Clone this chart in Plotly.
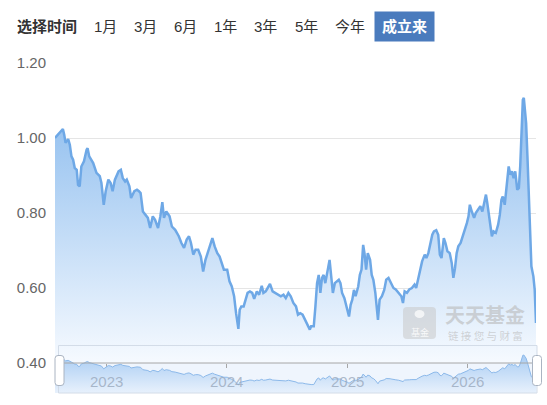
import plotly.graph_objects as go

# ---------------- data ----------------
nav_dates = [
    "2022-07-28", "2022-08-11", "2022-08-21", "2022-08-25", "2022-08-29", "2022-09-06", "2022-09-11", "2022-09-16",
    "2022-09-21", "2022-09-26", "2022-10-02", "2022-10-06", "2022-10-11", "2022-10-16", "2022-10-24", "2022-11-01",
    "2022-11-04", "2022-11-09", "2022-11-16", "2022-11-21", "2022-12-01", "2022-12-11", "2022-12-16", "2022-12-23",
    "2022-12-29", "2023-01-06", "2023-01-13", "2023-01-19", "2023-01-26", "2023-02-06", "2023-02-13", "2023-02-19",
    "2023-02-26", "2023-03-03", "2023-03-11", "2023-03-16", "2023-03-26", "2023-04-03", "2023-04-09", "2023-04-14",
    "2023-04-21", "2023-04-28", "2023-05-06", "2023-05-13", "2023-05-21", "2023-05-28", "2023-06-06", "2023-06-13",
    "2023-06-19", "2023-06-24", "2023-07-01", "2023-07-11", "2023-07-18", "2023-07-28", "2023-08-08", "2023-08-16",
    "2023-08-24", "2023-09-01", "2023-09-08", "2023-09-14", "2023-09-21", "2023-09-28", "2023-10-06", "2023-10-14",
    "2023-10-21", "2023-10-28", "2023-11-03", "2023-11-11", "2023-11-18", "2023-11-25", "2023-12-03", "2023-12-10",
    "2023-12-17", "2023-12-23", "2024-01-02", "2024-01-09", "2024-01-16", "2024-01-23", "2024-01-29", "2024-02-05",
    "2024-02-09", "2024-02-14", "2024-02-21", "2024-02-28", "2024-03-04", "2024-03-11", "2024-03-18", "2024-03-24",
    "2024-04-01", "2024-04-08", "2024-04-16", "2024-04-21", "2024-04-28", "2024-05-04", "2024-05-11", "2024-05-19",
    "2024-05-26", "2024-06-04", "2024-06-13", "2024-06-21", "2024-06-28", "2024-07-06", "2024-07-13", "2024-07-21",
    "2024-07-29", "2024-08-04", "2024-08-11", "2024-08-18", "2024-08-26", "2024-09-03", "2024-09-09", "2024-09-13",
    "2024-09-21", "2024-09-26", "2024-10-01", "2024-10-06", "2024-10-11", "2024-10-16", "2024-10-21", "2024-10-26",
    "2024-11-02", "2024-11-08", "2024-11-13", "2024-11-18", "2024-11-24", "2024-12-01", "2024-12-06", "2024-12-11",
    "2024-12-16", "2024-12-23", "2025-01-02", "2025-01-06", "2025-01-11", "2025-01-16", "2025-01-21", "2025-01-26",
    "2025-02-03", "2025-02-08", "2025-02-13", "2025-02-18", "2025-02-22", "2025-02-27", "2025-03-04", "2025-03-11",
    "2025-03-16", "2025-03-21", "2025-03-27", "2025-04-01", "2025-04-04", "2025-04-09", "2025-04-16", "2025-04-23",
    "2025-04-29", "2025-05-06", "2025-05-11", "2025-05-14", "2025-05-21", "2025-05-28", "2025-06-06", "2025-06-14",
    "2025-06-19", "2025-06-24", "2025-07-01", "2025-07-08", "2025-07-16", "2025-07-24", "2025-07-29", "2025-08-04",
    "2025-08-09", "2025-08-16", "2025-08-24", "2025-08-29", "2025-09-04", "2025-09-09", "2025-09-16", "2025-09-21",
    "2025-09-28", "2025-10-04", "2025-10-09", "2025-10-14", "2025-10-21", "2025-10-26", "2025-11-01", "2025-11-08",
    "2025-11-14", "2025-11-19", "2025-11-24", "2025-11-29", "2025-12-04", "2025-12-11", "2025-12-18", "2025-12-24",
    "2025-12-30", "2026-01-04", "2026-01-08", "2026-01-14", "2026-01-21", "2026-01-26", "2026-02-03", "2026-02-09",
    "2026-02-15", "2026-02-22", "2026-02-26", "2026-03-02", "2026-03-06", "2026-03-11", "2026-03-16", "2026-03-21",
    "2026-03-28", "2026-04-04", "2026-04-09", "2026-04-14", "2026-04-18", "2026-04-24", "2026-04-30", "2026-05-06",
    "2026-05-11", "2026-05-16", "2026-05-21", "2026-05-26", "2026-06-01", "2026-06-06", "2026-06-10", "2026-06-14",
    "2026-06-18", "2026-06-21", "2026-06-24", "2026-06-28", "2026-07-02", "2026-07-06", "2026-07-10", "2026-07-14",
    "2026-07-20", "2026-07-24", "2026-07-28",
]
nav_values = [
    1.000, 1.015, 1.024, 1.009, 0.987, 0.997, 0.982, 0.951,
    0.942, 0.920, 0.915, 0.875, 0.871, 0.924, 0.938, 0.969,
    0.973, 0.951, 0.938, 0.933, 0.907, 0.898, 0.880, 0.822,
    0.858, 0.889, 0.880, 0.858, 0.889, 0.911, 0.915, 0.893,
    0.884, 0.889, 0.871, 0.840, 0.858, 0.862, 0.858, 0.853,
    0.804, 0.795, 0.787, 0.760, 0.791, 0.782, 0.760, 0.791,
    0.829, 0.787, 0.804, 0.791, 0.764, 0.755, 0.738, 0.720,
    0.707, 0.729, 0.738, 0.720, 0.689, 0.702, 0.702, 0.684,
    0.644, 0.675, 0.693, 0.715, 0.733, 0.711, 0.693, 0.684,
    0.662, 0.649, 0.649, 0.618, 0.604, 0.578, 0.533, 0.491,
    0.542, 0.551, 0.551, 0.573, 0.587, 0.591, 0.587, 0.571,
    0.591, 0.582, 0.606, 0.587, 0.591, 0.600, 0.611, 0.591,
    0.587, 0.582, 0.578, 0.582, 0.573, 0.587, 0.578, 0.560,
    0.551, 0.529, 0.533, 0.529, 0.515, 0.502, 0.489, 0.498,
    0.498, 0.551, 0.613, 0.635, 0.587, 0.627, 0.635, 0.613,
    0.649, 0.675, 0.631, 0.587, 0.613, 0.618, 0.622, 0.613,
    0.587, 0.573, 0.542, 0.524, 0.555, 0.569, 0.595, 0.578,
    0.604, 0.635, 0.649, 0.715, 0.693, 0.649, 0.693, 0.675,
    0.635, 0.622, 0.587, 0.551, 0.515, 0.569, 0.578, 0.595,
    0.622, 0.627, 0.618, 0.613, 0.600, 0.596, 0.587, 0.578,
    0.560, 0.591, 0.587, 0.596, 0.600, 0.609, 0.600, 0.627,
    0.649, 0.671, 0.689, 0.680, 0.693, 0.711, 0.742, 0.751,
    0.754, 0.742, 0.689, 0.680, 0.733, 0.720, 0.698, 0.693,
    0.667, 0.627, 0.653, 0.693, 0.711, 0.720, 0.738, 0.756,
    0.773, 0.791, 0.822, 0.804, 0.787, 0.800, 0.809, 0.818,
    0.804, 0.835, 0.849, 0.827, 0.804, 0.769, 0.738, 0.751,
    0.747, 0.769, 0.795, 0.835, 0.844, 0.822, 0.880, 0.924,
    0.902, 0.911, 0.893, 0.911, 0.862, 0.867, 0.924, 1.022,
    1.102, 1.107, 1.075, 1.040, 0.951, 0.827, 0.756, 0.658,
    0.631, 0.596, 0.507,
]
y_tick_values = [0.40, 0.60, 0.80, 1.00, 1.20]
year_tick_dates = ["2023-01-01", "2024-01-01", "2025-01-01", "2026-01-01"]
year_tick_labels = ["2023", "2024", "2025", "2026"]
range_label = "选择时间"
range_buttons = ["1月", "3月", "6月", "1年", "3年", "5年", "今年"]
active_button = "成立来"

# ---------------- layout geometry (pixels) ----------------
W, H = 547, 405
ML, MR, MT, MB = 55, 11, 63, 12
PW, PH = W - ML - MR, H - MT - MB


def px_x(px):
    return (px - ML) / PW


def px_y(py):
    return (H - MB - py) / PH


FONT = "Arial, 'Liberation Sans', 'Noto Sans CJK SC', sans-serif"
CJK = "'Noto Sans CJK SC', sans-serif"

fig = go.Figure()

# main area line
fig.add_trace(go.Scatter(
    x=nav_dates, y=nav_values, mode="lines",
    line=dict(color="#6ea8e6", width=2.5),
    fill="tozeroy",
    fillgradient=dict(type="vertical",
                      colorscale=[[0, "rgb(246,250,255)"], [1, "rgb(140,188,238)"]],
                      start=0.40, stop=1.11),
    xaxis="x", yaxis="y", hoverinfo="skip", showlegend=False,
))

# overview (data zoom) mini chart
fig.add_trace(go.Scatter(
    x=nav_dates, y=nav_values, mode="lines",
    line=dict(color="#8cb9ea", width=1),
    fill="tozeroy",
    fillgradient=dict(type="vertical",
                      colorscale=[[0, "rgb(232,241,252)"], [1, "rgb(168,204,243)"]],
                      start=0.32, stop=1.11),
    xaxis="x2", yaxis="y2", hoverinfo="skip", showlegend=False,
))

shapes = []
# slider background
shapes.append(dict(type="rect", xref="paper", yref="paper", layer="below",
                   x0=px_x(58), x1=px_x(537), y0=px_y(393), y1=px_y(345),
                   fillcolor="#eff5fd", line=dict(width=0)))
# slider border
shapes.append(dict(type="rect", xref="paper", yref="paper", layer="above",
                   x0=px_x(58.5), x1=px_x(537), y0=px_y(393), y1=px_y(345.5),
                   fillcolor="rgba(0,0,0,0)", line=dict(color="#d3dce8", width=1)))
# category axis baseline drawn over the overview
shapes.append(dict(type="line", xref="paper", yref="paper", layer="above",
                   x0=0, x1=1, y0=px_y(363), y1=px_y(363),
                   line=dict(color="#a6a6a6", width=1)))
# handles
handle_path = ("M -4.5,-12 Q -4.5,-15 -1.5,-15 L 1.5,-15 Q 4.5,-15 4.5,-12 L 4.5,12 "
               "Q 4.5,15 1.5,15 L -1.5,15 Q -4.5,15 -4.5,12 Z")
for cx in (59.5, 537):
    shapes.append(dict(type="path", xref="paper", yref="paper", layer="above",
                       xsizemode="pixel", ysizemode="pixel",
                       xanchor=px_x(cx), yanchor=px_y(370.5), path=handle_path,
                       fillcolor="white", line=dict(color="#aab4c2", width=1)))
# watermark logo square
logo_path = ("M -16.5,-12 Q -16.5,-16 -12.5,-16 L 12.5,-16 Q 16.5,-16 16.5,-12 L 16.5,12 "
             "Q 16.5,16 12.5,16 L -12.5,16 Q -16.5,16 -16.5,12 Z")
shapes.append(dict(type="path", xref="paper", yref="paper", layer="above",
                   xsizemode="pixel", ysizemode="pixel",
                   xanchor=px_x(419.5), yanchor=px_y(323), path=logo_path,
                   fillcolor="rgba(200,200,200,0.55)", line=dict(width=0)))
shapes.append(dict(type="circle", xref="paper", yref="paper", layer="above",
                   xsizemode="pixel", ysizemode="pixel",
                   xanchor=px_x(419.5), yanchor=px_y(314),
                   x0=-5, x1=5, y0=-4, y1=4,
                   fillcolor="rgba(255,255,255,0.7)", line=dict(width=0)))

annotations = []
annotations.append(dict(text="<b>%s</b>" % range_label, xref="paper", yref="paper",
                        x=px_x(46.5), y=px_y(27), xanchor="center", yanchor="middle",
                        showarrow=False, font=dict(family=FONT, size=15, color="#333333")))
btn_centers = [105.5, 145.5, 185.5, 225.5, 265.5, 306, 349.5]
for lab, cx in zip(range_buttons, btn_centers):
    annotations.append(dict(text=lab, xref="paper", yref="paper",
                            x=px_x(cx), y=px_y(27), xanchor="center", yanchor="middle",
                            showarrow=False, font=dict(family=FONT, size=15, color="#333333")))
annotations.append(dict(text="<b>%s</b>" % active_button, xref="paper", yref="paper",
                        x=px_x(404.5), y=px_y(26.5), xanchor="center", yanchor="middle",
                        width=57, height=27, bgcolor="#4a7bbd", align="center", valign="middle",
                        showarrow=False, font=dict(family=FONT, size=15, color="white")))
# year labels of the time axis (shown over the overview strip)
for d, lab in zip(year_tick_dates, year_tick_labels):
    annotations.append(dict(text=lab, xref="x", yref="paper", x=d, y=px_y(381),
                            xanchor="center", yanchor="middle", showarrow=False,
                            font=dict(family=FONT, size=15, color="rgba(150,165,185,0.75)")))
# watermark texts
annotations.append(dict(text="<b>天天基金</b>", xref="paper", yref="paper",
                        x=px_x(485), y=px_y(314), xanchor="center", yanchor="middle",
                        showarrow=False,
                        font=dict(family=CJK, size=20, color="rgba(185,185,185,0.6)")))
annotations.append(dict(text="链 接 您 与 财 富", xref="paper", yref="paper",
                        x=px_x(485), y=px_y(335), xanchor="center", yanchor="middle",
                        showarrow=False,
                        font=dict(family=CJK, size=10.5, color="rgba(185,185,185,0.6)")))
annotations.append(dict(text="基金", xref="paper", yref="paper",
                        x=px_x(419.5), y=px_y(332), xanchor="center", yanchor="middle",
                        showarrow=False,
                        font=dict(family=CJK, size=9, color="rgba(255,255,255,0.85)")))

x_range = [nav_dates[0], nav_dates[-1]]
fig.update_layout(
    width=W, height=H,
    margin=dict(l=ML, r=MR, t=MT, b=MB, autoexpand=False),
    paper_bgcolor="white", plot_bgcolor="rgba(0,0,0,0)",
    showlegend=False,
    xaxis=dict(type="date", range=x_range, domain=[0, 1], anchor="y",
               tickmode="array", tickvals=year_tick_dates, ticktext=year_tick_labels,
               showticklabels=False, showline=False, automargin=False,
               ticks="outside", ticklen=4, tickcolor="#a6a6a6",
               showgrid=False, zeroline=False, fixedrange=True),
    yaxis=dict(domain=[px_y(363), 1], range=[0.40, 1.20], anchor="x",
               tickmode="array", tickvals=y_tick_values, tickformat=".2f",
               showgrid=True, gridcolor="#e5e5e5", gridwidth=1,
               showline=False, zeroline=False, ticks="", automargin=False,
               tickfont=dict(family=FONT, size=15, color="#666666"),
               ticklabelstandoff=8, fixedrange=True),
    xaxis2=dict(type="date", range=x_range, domain=[0, 1], anchor="y2", visible=False),
    yaxis2=dict(domain=[0, px_y(345)], range=[0.324, 1.313], anchor="x2", visible=False),
    shapes=shapes,
    annotations=annotations,
)

fig.write_html("out.html")
